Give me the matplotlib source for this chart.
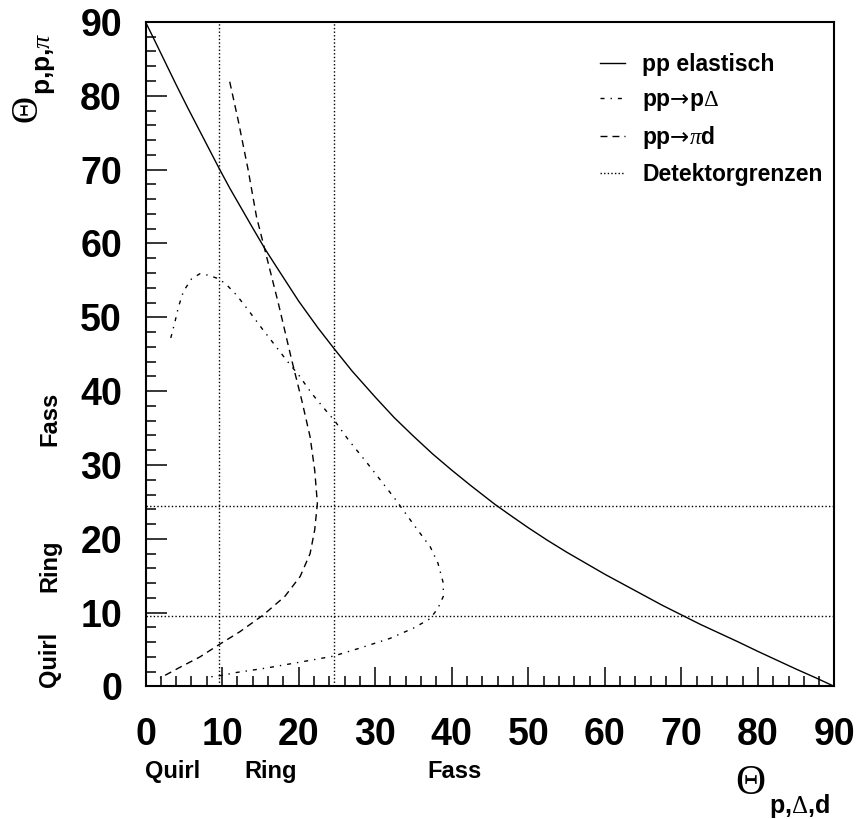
import matplotlib
matplotlib.use('Agg')
import matplotlib.pyplot as plt
from matplotlib.lines import Line2D
from matplotlib.ticker import MultipleLocator

plt.rcParams['font.family'] = ['Liberation Sans', 'DejaVu Sans']
plt.rcParams['font.weight'] = 'bold'
plt.rcParams['mathtext.fontset'] = 'custom'
plt.rcParams['mathtext.rm'] = 'Liberation Serif:normal'
plt.rcParams['mathtext.it'] = 'Liberation Serif:italic:normal'
plt.rcParams['mathtext.bf'] = 'Liberation Sans:bold'
plt.rcParams['mathtext.sf'] = 'DejaVu Sans:normal'

# pp elastisch
elastic_x = [0, 1, 2.5, 4, 5.5, 7, 8.5, 9.7, 11, 12.5, 14, 15.7, 17.5, 20, 22.5, 24.6, 27, 30, 32.5, 35,
             37.5, 40, 42.5, 45.6, 47.5, 50, 52.5, 55, 57.5, 60, 62.5, 65, 67.5, 70, 72.5, 75, 77.5,
             80, 82.5, 85, 87.5, 90]
elastic_y = [90, 87.9, 84.7, 81.5, 78.4, 75.4, 72.4, 70.0, 67.5, 64.8, 62.1, 59.1, 56.2, 52.2, 48.6, 45.8,
             42.7, 39.2, 36.4, 33.9, 31.5, 29.3, 27.2, 24.7, 23.3, 21.5, 19.8, 18.2, 16.7, 15.2, 13.8,
             12.4, 11.0, 9.7, 8.4, 7.2, 6.0, 4.75, 3.55, 2.35, 1.2, 0]

# pp -> p Delta
delta_x = [3.3, 3.85, 4.3, 4.95, 6.0, 7.1, 8.2, 9.6, 10.6, 11.9, 13.4, 15.2, 16.7, 18.4, 20.0, 21.7,
           23.7, 24.7, 26.5, 29.0, 32.6, 35.4, 37.2, 38.2, 38.9, 38.9, 38.2, 37.2, 35.0, 31.9, 28.0,
           24.5, 20.2, 15.8, 11.9, 10.0, 8.0]
delta_y = [47.2, 49.4, 51.4, 53.5, 55.2, 55.9, 55.7, 55.2, 54.4, 53.0, 51.0, 48.5, 46.5, 44.2, 42.2, 39.7,
           37.2, 36.0, 33.4, 30.2, 25.4, 21.4, 18.9, 16.7, 14.0, 12.2, 10.6, 9.2, 7.9, 6.5, 5.2,
           4.1, 3.3, 2.5, 1.9, 1.5, 1.25]

# pp -> pi d
pid_x = [11.0, 12.1, 13.4, 14.5, 15.6, 17.35, 19.1, 20.4, 21.5, 22.1, 22.45, 22.1, 21.5, 20.2, 18.2,
         15.4, 12.3, 9.5, 7.1, 4.5, 1.9]
pid_y = [81.9, 76.7, 70.0, 63.6, 59.1, 51.9, 44.2, 38.8, 33.8, 29.3, 24.8, 21.2, 18.0, 14.9, 12.2,
         9.7, 7.4, 5.6, 4.0, 2.6, 1.15]

# Detektorgrenzen
limits_x = [9.6, 24.6]
limits_y = [9.5, 24.5]

# Detektorbereiche unter/neben den Achsen
x_regions = ['Quirl', 'Ring', 'Fass']
x_region_pos = [3.5, 16.3, 40.4]
y_regions = ['Quirl', 'Ring', 'Fass']
y_region_pos = [3.6, 16.3, 36.2]

ticks = [0, 10, 20, 30, 40, 50, 60, 70, 80, 90]

dashdot = (0, (2.9, 4.3, 1.0, 4.3))
dashed = (0, (5.0, 3.6))
dotted = (0, (1.0, 1.6))

fig = plt.figure(figsize=(8.58, 8.19), dpi=100)
ax = fig.add_axes([0.1696, 0.1618, 0.8030, 0.8114])

ax.plot(elastic_x, elastic_y, color='black', lw=1.0, label='pp elastisch')
ax.plot(delta_x, delta_y, color='black', lw=1.0, linestyle=dashdot, label='pp$\\mathsf{→}$p$\\Delta$')
ax.plot(pid_x, pid_y, color='black', lw=1.0, linestyle=dashed, label='pp$\\mathsf{→}\\pi$d')
for v in limits_x:
    ax.axvline(v, color='black', lw=1.0, linestyle=dotted)
for h in limits_y:
    ax.axhline(h, color='black', lw=1.0, linestyle=dotted)

handles, labels = ax.get_legend_handles_labels()
handles.append(Line2D([], [], color='black', lw=1.0, linestyle=dotted))
labels.append('Detektorgrenzen')
ax.legend(handles, labels, loc='upper left', bbox_to_anchor=(0.643, 0.97), frameon=False,
          fontsize=16.5, handlelength=1.1, handletextpad=0.75, labelspacing=0.5, borderpad=0)

ax.set_xlim(0, 90)
ax.set_ylim(0, 90)
ax.set_xticks(ticks)
ax.set_yticks(ticks)
ax.xaxis.set_minor_locator(MultipleLocator(2))
ax.yaxis.set_minor_locator(MultipleLocator(2))
ax.tick_params(which='both', direction='in', top=False, right=False, width=1.1)
ax.tick_params(axis='x', which='major', length=13.7, labelsize=27, pad=22)
ax.tick_params(axis='y', which='major', length=15, labelsize=27, pad=17)
ax.tick_params(which='minor', length=7.2)
for s in ax.spines.values():
    s.set_linewidth(1.5)

for name, pos in zip(x_regions, x_region_pos):
    ax.text(pos, -11.5, name, ha='center', va='center', fontsize=17, clip_on=False)
for name, pos in zip(y_regions, y_region_pos):
    ax.text(-12.5, pos, name, ha='center', va='center', rotation=90, fontsize=17, clip_on=False)

# axis titles: Theta in serif, bold sans subscript
W, H = 858, 819
fig.text(27 / W, 1 - 108 / H, 'Θ', rotation=90, ha='center', va='center',
         family='Liberation Serif', weight='normal', fontsize=27)
fig.text(50 / W, 1 - 95 / H, 'p,p,$\\pi$', rotation=90, ha='left', va='baseline',
         rotation_mode='anchor', fontsize=19)
fig.text(750 / W, 1 - 784 / H, 'Θ', ha='center', va='center',
         family='Liberation Serif', weight='normal', fontsize=30)
fig.text(769 / W, 1 - 813 / H, 'p,$\\Delta$,d', ha='left', va='baseline', fontsize=18)

fig.savefig('out.png', dpi=100)
